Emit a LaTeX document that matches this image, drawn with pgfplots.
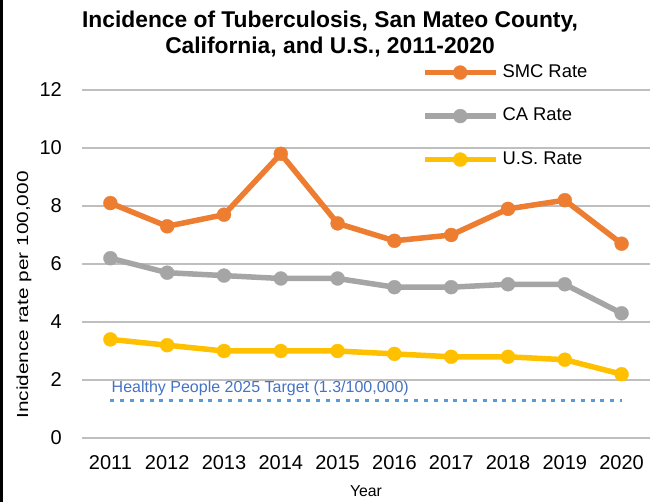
\documentclass[border=0pt]{standalone}
\usepackage{fontspec}
\setmainfont{Liberation Sans}
\usepackage{pgfplots}
\pgfplotsset{compat=1.18}
\usepackage{pgfplotstable}
\definecolor{smc}{HTML}{ED7D31}
\definecolor{ca}{HTML}{A5A5A5}
\definecolor{us}{HTML}{FFC000}
\definecolor{grid}{HTML}{D9D9D9}
\definecolor{target}{HTML}{5B9BD5}
\definecolor{targettext}{HTML}{4472C4}
\pgfplotstableread{
x smc ca us
0 8.1 6.2 3.4
1 7.3 5.7 3.2
2 7.7 5.6 3.0
3 9.8 5.5 3.0
4 7.4 5.5 3.0
5 6.8 5.2 2.9
6 7.0 5.2 2.8
7 7.9 5.3 2.8
8 8.2 5.3 2.7
9 6.7 4.3 2.2
}\datatable
\pgfplotstableread{
x y
0 1.3
9 1.3
}\targettable
\begin{document}
\begin{tikzpicture}[x=1pt,y=1pt]
\path[use as bounding box] (0,0) rectangle (660,502);
\draw[black, line width=2.6pt] (1.3,0) -- (1.3,502);
\begin{axis}[
  at={(82pt,64pt)}, anchor=south west,
  scale only axis, width=568pt, height=348pt,
  xmin=-0.5, xmax=9.5, ymin=0, ymax=12,
  axis line style={draw=none},
  xtick style={draw=none}, ytick style={draw=none},
  xmajorgrids=false, xminorgrids=false,
  ymajorgrids=true, grid style={grid, line width=1.5pt},
  ytick={0,2,...,12},
  xtick={0,...,9},
  xticklabels={2011,2012,2013,2014,2015,2016,2017,2018,2019,2020},
  major tick length=0pt,
  /pgf/number format/assume math mode=true,
  tick label style={font=\fontsize{20}{24}\selectfont, inner sep=0pt},
  yticklabel style={anchor=east, xshift=-20pt},
  xticklabel style={anchor=north, yshift=-17pt},
  clip=false,
  legend style={draw=none, fill=none, inner sep=0pt, outer sep=0pt,
    at={(axis description cs:0.5986,0.925)}, anchor=west,
    row sep=26pt, column sep=4pt,
    font=\fontsize{18.4}{22}\selectfont,
    nodes={inner sep=0pt, text height=13.5pt, text depth=4pt},
    cells={anchor=west}},
  legend image code/.code={\draw[#1, mark repeat=2, mark phase=2] plot coordinates {(0pt,0pt) (35.5pt,0pt) (71pt,0pt)};},
]
\addplot[smc, line width=5.5pt, mark=*, mark size=7pt, mark options={solid, line width=0.3pt}] table[x=x,y=smc] {\datatable};
\addlegendentry{SMC Rate}
\addplot[ca, line width=5.5pt, mark=*, mark size=7pt, mark options={solid, line width=0.3pt}] table[x=x,y=ca] {\datatable};
\addlegendentry{CA Rate}
\addplot[us, line width=5.5pt, mark=*, mark size=7pt, mark options={solid, line width=0.3pt}] table[x=x,y=us] {\datatable};
\addlegendentry{U.S. Rate}
\addplot[target, line width=3.5pt, mark=none, dash pattern=on 4pt off 5.8pt, forget plot] table[x=x,y=y] {\targettable};
\node[anchor=base west, inner sep=0pt, text=targettext, font=\fontsize{16}{19}\selectfont] at (axis cs:0.02,1.58) {Healthy People 2025 Target (1.3/100,000)};
\end{axis}
\node[anchor=base, inner sep=0pt, font=\fontsize{22.8}{26}\selectfont\bfseries] at (330,474) {Incidence of Tuberculosis, San Mateo County,};
\node[anchor=base, inner sep=0pt, font=\fontsize{22.8}{26}\selectfont\bfseries] at (330,448) {California, and U.S., 2011-2020};
\node[inner sep=0pt, rotate=90] at (24,207) {\scalebox{1.3}[1]{\fontsize{16}{19}\selectfont Incidence rate per 100,000}};
\node[inner sep=0pt, font=\fontsize{15.8}{19}\selectfont] at (366,11) {Year};
\end{tikzpicture}
\end{document}
